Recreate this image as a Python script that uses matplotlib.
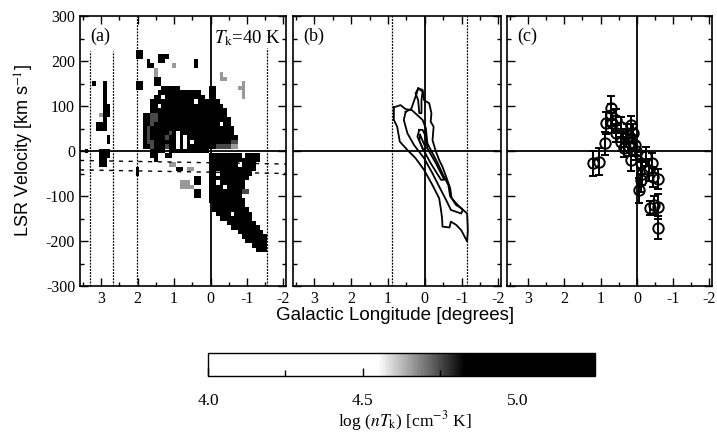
import numpy as np
import matplotlib
matplotlib.use("Agg")
import matplotlib.pyplot as plt
from matplotlib.colors import LinearSegmentedColormap, Normalize
from matplotlib.cm import ScalarMappable
from matplotlib.ticker import MultipleLocator, FixedLocator

plt.rcParams['font.family'] = ['Liberation Serif', 'DejaVu Serif']
plt.rcParams['mathtext.fontset'] = 'stix'
plt.rcParams['axes.unicode_minus'] = False

# ---- panel (a): log(nTk) map, one char per cell (0.1 deg x 10 km/s) ----
# columns: l = 3.5 ... -1.6 ; rows: v = 220 ... -220
# '#' black, '+' dark grey, 'o' light grey, '.' no data
map_rows = [
    ".......... .....##... .......... .......... .......... ..",  # 220
    ".......... .....##... .###...... .......... .......... ..",  # 210
    ".......... ........#. .##....... .#........ .......... ..",  # 200
    ".......... ........## .....o.... .#........ .......... ..",  # 190
    ".......... .......... o......... .......... .......... ..",  # 180
    ".......... .......... o......... ........o. .......... ..",  # 170
    ".......... .......... ##........ ........oo .......... ..",  # 160
    "...#..#... .....##... ##........ .......... ....o..... ..",  # 150
    "......#... .....##... ..#####... .....##... ...oo..... ..",  # 140
    "......#... .......... .######### ###..##... ....o..... ..",  # 130
    "......#... .......... ##.####### ####.##... ....o..... ..",  # 120
    "......#... .........# ########## #.######.. .......... ..",  # 110
    "......##.. .........# #.######## #########. .......... ..",  # 100
    "......##.. .........# ########## ########## .......... ..",  # 90
    ".....o##.. .......##+ +######### ########## .......... ..",  # 80
    "......#... .......##+ +######### ########## #......... ..",  # 70
    "....###... .......##+ ########## ########.# #......... ..",  # 60
    "....###... .......#+# ########## ########## ##........ ..",  # 50
    ".......... .......#+# ####+#.### ########## ##........ ..",  # 40
    ".......#.. .......#+# ###+##.#.# ########## ###....... ..",  # 30
    ".......#.. .......#++ ######.#.# .######### #++....... ..",  # 20
    ".......... .......##+ ###+##.#.# #######+++ +oo....... ..",  # 10
    ".#...###.. .........# ###.###### #####..... .......... ..",  # 0
    ".....###.. .........# #..##..... .....##### ####.####. ..",  # -10
    ".....##... .......... #......... .....##### #########. ..",  # -20
    ".....##... .......... ....oo.... .....##### ###.####.. ..",  # -30
    ".......... .....#.... ......##.o o....##### ########.. ..",  # -40
    ".......... .....#.... .......... .....##.## #######... ..",  # -50
    ".......... .......... .......... .##..##### ######.... ..",  # -60
    ".......... .......... .......ooo .##..##.## #####..... ..",  # -70
    ".......... .......... .......ooo o....####. #####..... ..",  # -80
    ".......... .......... .......... .##..##### ####++.... ..",  # -90
    ".......... .......... .......... .##..##### ####...... ..",  # -100
    ".......... .......... .......... .....##### #####..... ..",  # -110
    ".......... .......... .......... ......#### #####..... ..",  # -120
    ".......... .......... .......... ......#### ######.... ..",  # -130
    ".......... .......... .......... .......### #.#####... ..",  # -140
    ".......... .......... .......... ........## #######... ..",  # -150
    ".......... .......... .......... .......... ########.. ..",  # -160
    ".......... .......... .......... .......... .########. ..",  # -170
    ".......... .......... .......... .......... ...####### ..",  # -180
    ".......... .......... .......... .......... ....###### #.",  # -190
    ".......... .......... .......... .......... .....##### #.",  # -200
    ".......... .......... .......... .......... .......### #.",  # -210
    ".......... .......... .......... .......... ........## #.",  # -220
]
map_levels = {'#': 5.1, '+': 4.75, 'o': 4.66}
map_l_start, map_l_step = 3.5, 0.1
map_v_start, map_v_step = 220, 10

# guide lines in panel (a)
a_vline_l = [3.31, 2.68, 2.03, -1.56]
a_vline_top = [222, 222, 300, 228]
a_hline_left = [-21, -42]
a_hline_right = [-29, -50]

# ---- panel (b): contours (l, v) ----
outer_l = [0.84, 0.84, 0.75, 0.68, 0.47, 0.25, 0.02, -0.21, -0.39, -0.44, -0.47, -0.48,
           -0.67, -0.71, -0.85, -0.99, -1.15, -1.17, -1.15, -0.99, -0.85, -0.73, -0.69,
           -0.58, -0.48, -0.39, -0.30, -0.21, -0.24, -0.16, -0.18, -0.12, 0.02, 0.06,
           0.18, 0.22, 0.38, 0.52, 0.66, 0.84]
outer_v = [97, 69, 54, 21, 2, -16, -42, -76, -105, -131, -150, -168,
           -170, -157, -164, -176, -201, -176, -139, -127, -120, -105, -83,
           -57, -35, -20, -1, 24, 54, 65, 84, 106, 113, 136,
           139, 128, 91, 93, 102, 97]
middle_l = [0.52, 0.57, 0.47, 0.29, 0.02, -0.21, -0.39, -0.58, -0.71, -0.99,
            -1.03, -0.85, -0.69, -0.64, -0.48, -0.35, -0.21, -0.07, -0.03, 0.06,
            0.26, 0.38, 0.52]
middle_v = [87, 69, 39, 13, -16, -50, -79, -109, -131, -139,
            -131, -116, -101, -76, -50, -27, -5, 17, 50, 69,
            84, 93, 87]
inner_l = [0.15, 0.20, 0.06, -0.16, -0.44, -0.53, -0.30, -0.07, -0.03, 0.06, 0.15]
inner_v = [47, 32, 6, -27, -64, -64, -27, 6, 32, 47, 47]
spike_l = [0.18, 0.25, 0.18, 0.15, 0.09, 0.09, 0.06, 0.18]
spike_v = [139, 128, 113, 84, 84, 113, 132, 139]
core_l = [0.13, -0.03, 0.04, 0.15, 0.13]
core_v = [36, 6, 2, 24, 36]
b_vline_l = [0.88, -1.15]

# ---- panel (c): velocities with errors ----
c_l = [1.20, 1.04, 0.88, 0.86, 0.70, 0.72, 0.68, 0.585, 0.57, 0.45, 0.45, 0.31,
       0.22, 0.15, 0.10, 0.17, 0.04, 0.02, -0.10, -0.06, -0.15, -0.24, -0.33,
       -0.42, -0.44, -0.58, -0.37, -0.47, -0.58, -0.58, 0.26, 0.36, -0.12]
c_v = [-27, -24, 17, 62, 95, 80, 62, 69, 39, 54, 21, 28,
       10, 58, 39, -20, 13, -1, -27, -87, -50, -12, -42,
       -27, -57, -62, -127, -120, -124, -170, 39, 6, -65]
c_err = [28, 30, 25, 25, 27, 25, 22, 25, 20, 22, 20, 20,
         20, 20, 20, 25, 22, 20, 25, 28, 25, 22, 25,
         22, 22, 22, 15, 20, 28, 26, 20, 20, 25]

cbar_ticks = [4.0, 4.5, 5.0]
cbar_minor = [4.25, 4.75]


def style_axes(ax, label, show_ylabels):
    ax.set_xlim(3.58, -2.07)
    ax.set_ylim(-300, 300)
    ax.xaxis.set_major_locator(MultipleLocator(1))
    ax.xaxis.set_minor_locator(MultipleLocator(0.5))
    ax.yaxis.set_major_locator(MultipleLocator(100))
    ax.yaxis.set_minor_locator(MultipleLocator(50))
    ax.tick_params(which='both', direction='in', top=True, right=True,
                   labelsize=11.5, width=1.0, labelleft=show_ylabels)
    ax.tick_params(which='major', length=6)
    ax.tick_params(which='minor', length=3)
    for s in ax.spines.values():
        s.set_linewidth(1.2)
    ax.axhline(0, color='k', lw=1.3, zorder=3)
    ax.axvline(0, color='k', lw=1.3, zorder=3)
    ax.text(0.05, 0.955, label, transform=ax.transAxes, ha='left', va='top', fontsize=13)


fig = plt.figure(figsize=(7.17, 4.34), dpi=100)
W, H = 717, 434
ax_a = fig.add_axes([80 / W, 1 - 286 / H, 206 / W, 270 / H])
ax_b = fig.add_axes([293 / W, 1 - 286 / H, 208 / W, 270 / H])
ax_c = fig.add_axes([507 / W, 1 - 286 / H, 205 / W, 270 / H])
cax = fig.add_axes([208 / W, 1 - 376 / H, 387 / W, 23 / H])

cmap = LinearSegmentedColormap.from_list(
    'nt', [(0, 'white'), (0.44, 'white'), (0.664, 'black'), (1, 'black')])
norm = Normalize(4.0, 5.25)

# panel (a)
grid = np.array([[map_levels.get(ch, np.nan) for ch in row.replace(' ', '')]
                 for row in map_rows])
nrow, ncol = grid.shape
l_edges = map_l_start + map_l_step / 2 - map_l_step * np.arange(ncol + 1)
v_edges = map_v_start + map_v_step / 2 - map_v_step * np.arange(nrow + 1)
ax_a.pcolormesh(l_edges, v_edges, np.ma.masked_invalid(grid), cmap=cmap, norm=norm,
                shading='flat', zorder=1)
for l, top in zip(a_vline_l, a_vline_top):
    ax_a.plot([l, l], [-300, top], color='k', lw=0.9, ls=(0, (1.5, 1.0)), zorder=2)
for vl, vr in zip(a_hline_left, a_hline_right):
    ax_a.plot([3.58, -2.07], [vl, vr], color='k', lw=1.0, ls=(0, (3, 4)), zorder=2)
style_axes(ax_a, '(a)', True)
ax_a.set_yticklabels([f'{int(t)}' for t in ax_a.get_yticks()])
ax_a.text(0.975, 0.955, r'$\mathit{T}_{\rm k}$=40 K', transform=ax_a.transAxes,
          ha='right', va='top', fontsize=13.5)
ax_a.set_ylabel(r'LSR Velocity [km s$^{-1}$]', family='Liberation Sans', fontsize=13)
ax_a.yaxis.set_label_coords(-0.215, 0.5)

# panel (b)
for xs, ys in [(outer_l, outer_v), (middle_l, middle_v), (inner_l, inner_v),
               (spike_l, spike_v), (core_l, core_v)]:
    ax_b.plot(xs, ys, color='k', lw=1.3, zorder=4)
for l in b_vline_l:
    ax_b.axvline(l, color='k', lw=0.9, ls=(0, (1.5, 1.0)), zorder=2)
style_axes(ax_b, '(b)', False)

# panel (c)
ax_c.errorbar(c_l, c_v, yerr=c_err, fmt='o', mfc='none', mec='k', ecolor='k',
              ms=7.5, mew=1.4, elinewidth=1.4, capsize=3, capthick=1.4, zorder=4)
style_axes(ax_c, '(c)', False)

for ax in (ax_a, ax_b, ax_c):
    ax.set_xticklabels([f'{int(round(t))}' for t in ax.get_xticks()])

fig.text(395 / W, 1 - 316 / H, 'Galactic Longitude [degrees]', family='Liberation Sans',
         fontsize=13.5, ha='center', va='center')

# colour bar
sm = ScalarMappable(norm=norm, cmap=cmap)
cb = fig.colorbar(sm, cax=cax, orientation='horizontal')
cb.set_ticks(cbar_ticks)
cb.set_ticklabels([f'{t:.1f}' for t in cbar_ticks])
cax.xaxis.set_minor_locator(FixedLocator(cbar_minor))
cax.tick_params(which='both', direction='in', labelsize=12.5, pad=12, width=1.0)
cax.tick_params(which='major', length=6)
cax.tick_params(which='minor', length=4)
cb.outline.set_linewidth(1.0)
fig.text(405 / W, 1 - 421 / H, r'log ($nT_{\rm k}$) [cm$^{-3}$ K]', fontsize=12.5,
         ha='center', va='center')

fig.savefig('out.png', dpi=100)
